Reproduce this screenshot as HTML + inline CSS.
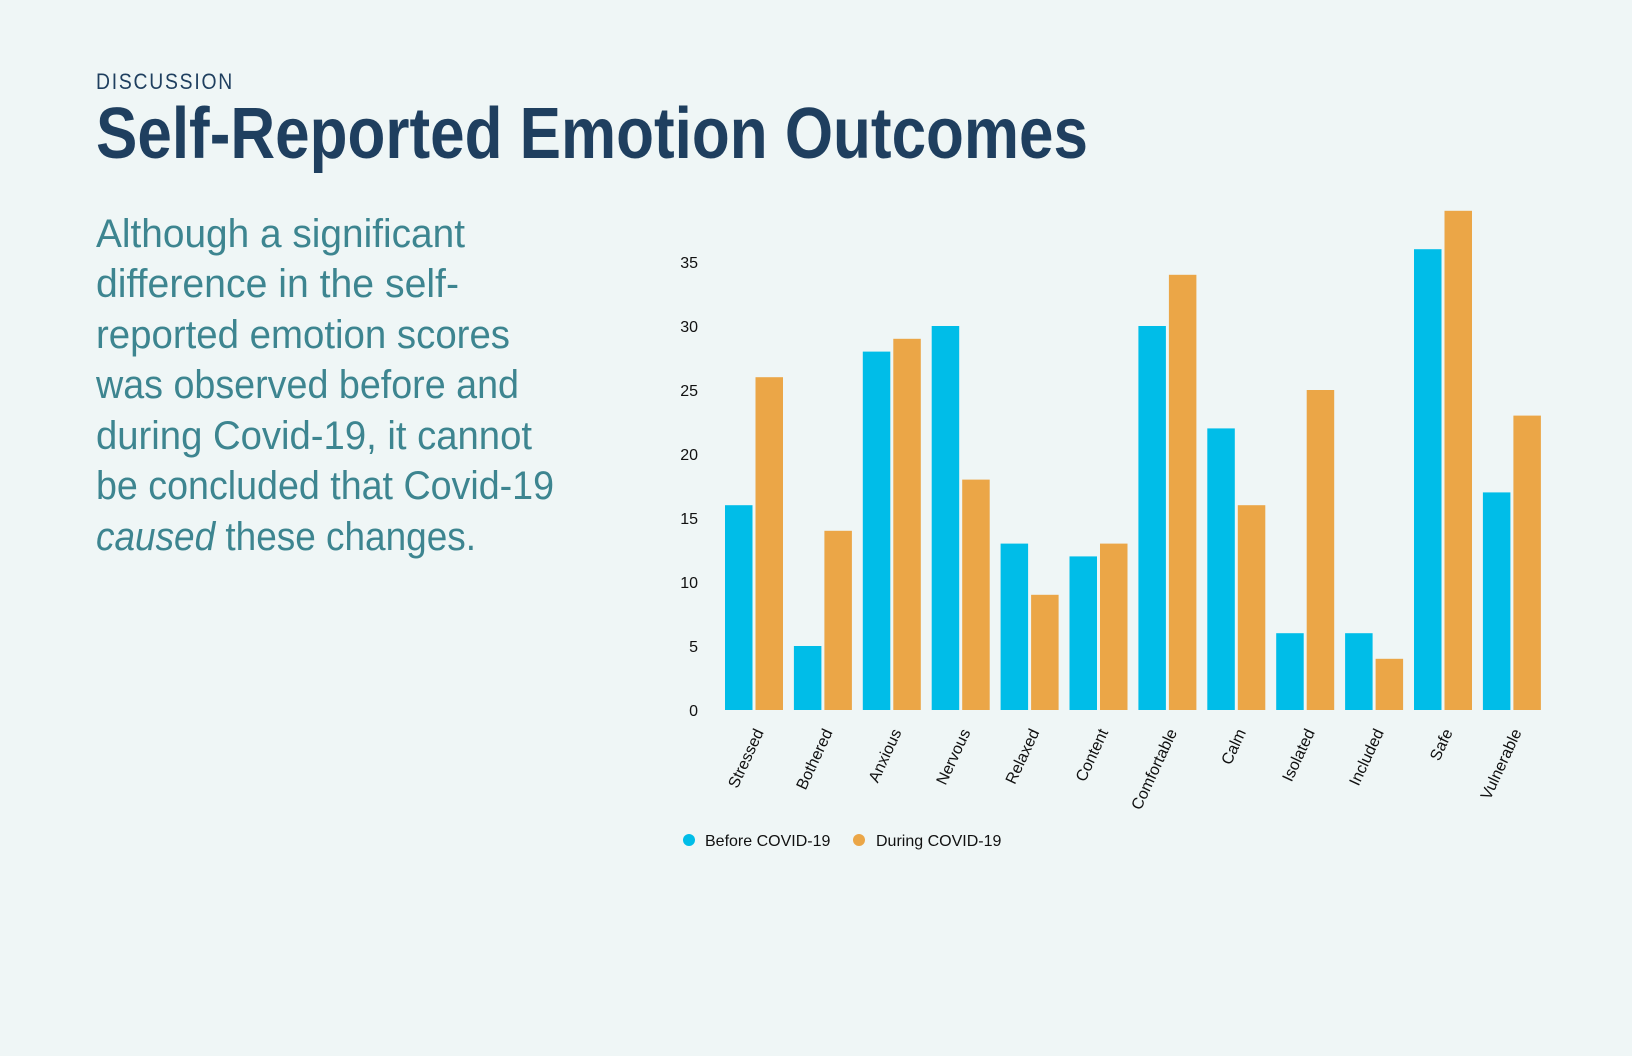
<!DOCTYPE html>
<html><head><meta charset="utf-8"><style>
body{margin:0;background:#eff6f6;}
svg{display:block;font-family:"Liberation Sans",sans-serif;}
</style></head><body>
<svg width="1632" height="1056">
<rect width="1632" height="1056" fill="#eff6f6"/>
<text x="96" y="89" font-size="22" fill="#1f3f5f" textLength="138" lengthAdjust="spacingAndGlyphs" letter-spacing="2">DISCUSSION</text>
<text x="96" y="158" font-size="72" font-weight="bold" fill="#1f3f5f" textLength="992" lengthAdjust="spacingAndGlyphs">Self-Reported Emotion Outcomes</text>
<g font-size="40" fill="#3d8590">
<text x="96" y="247" textLength="369" lengthAdjust="spacingAndGlyphs">Although a significant</text>
<text x="96" y="297" textLength="363" lengthAdjust="spacingAndGlyphs">difference in the self-</text>
<text x="96" y="348" textLength="414" lengthAdjust="spacingAndGlyphs">reported emotion scores</text>
<text x="96" y="398" textLength="423" lengthAdjust="spacingAndGlyphs">was observed before and</text>
<text x="96" y="449" textLength="436" lengthAdjust="spacingAndGlyphs">during Covid-19, it cannot</text>
<text x="96" y="499" textLength="458" lengthAdjust="spacingAndGlyphs">be concluded that Covid-19</text>
<text x="96" y="550" textLength="380" lengthAdjust="spacingAndGlyphs"><tspan font-style="italic">caused</tspan> these changes.</text>
</g>
<g id="chart"></g>
<g font-size="16" fill="#111">
<circle cx="689" cy="840" r="6" fill="#00bde8"/>
<text x="705" y="846">Before COVID-19</text>
<circle cx="859" cy="840" r="6" fill="#eba647"/>
<text x="876" y="846">During COVID-19</text>
</g>
</svg>
<script>
const categories=["Stressed","Bothered","Anxious","Nervous","Relaxed","Content","Comfortable","Calm","Isolated","Included","Safe","Vulnerable"];
const before=[16,5,28,30,13,12,30,22,6,6,36,17];
const during=[26,14,29,18,9,13,34,16,25,4,39,23];
const yTicks=[0,5,10,15,20,25,30,35];
const NS="http://www.w3.org/2000/svg";
const g=document.getElementById('chart');
const y0=710, pxPer=12.8, x0=725, pitch=68.9, bw=27.5, gap=3;
const yS=v=>y0-v*pxPer;
const xS=i=>x0+i*pitch;
function mk(t,a){const e=document.createElementNS(NS,t);for(const k in a)e.setAttribute(k,a[k]);g.appendChild(e);return e;}
yTicks.forEach(v=>{const t=mk('text',{x:698,y:yS(v)+6,'font-size':16,'text-anchor':'end',fill:'#111'});t.textContent=v;

});
categories.forEach((c,i)=>{
const b=mk('rect',{x:xS(i),y:yS(before[i]),width:bw,height:before[i]*pxPer,fill:'#00bde8'});


const d=mk('rect',{x:xS(i)+bw+gap,y:yS(during[i]),width:bw,height:during[i]*pxPer,fill:'#eba647'});


const cx=xS(i)+bw+gap/2+10, cy=732;
const t=mk('text',{x:cx,y:cy,'font-size':16,'text-anchor':'end',fill:'#111',transform:`rotate(-65 ${cx} ${cy})`});
t.textContent=c;


});
</script>
</body></html>
